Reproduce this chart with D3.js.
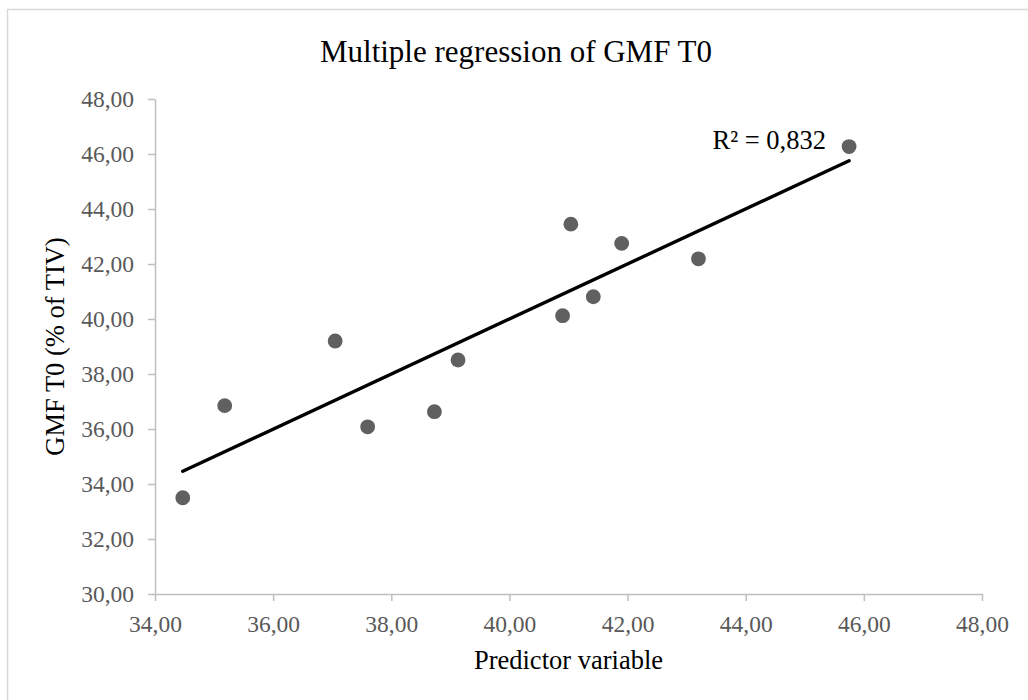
<!DOCTYPE html>
<html>
<head>
<meta charset="utf-8">
<script src="https://cdn.jsdelivr.net/npm/d3@7/dist/d3.min.js"></script>
<style>
  html, body { margin: 0; padding: 0; background: #fff; }
  svg { display: block; }
</style>
</head>
<body>
<svg id="chart" width="1028" height="700"></svg>
<script>
// ---- data ----
const predictor = [34.47, 35.18, 37.05, 37.60, 38.73, 39.13, 40.90, 41.04, 41.42, 41.90, 43.20, 45.75];
const gmfT0     = [33.50, 36.85, 39.20, 36.08, 36.63, 38.51, 40.12, 43.45, 40.81, 42.75, 42.19, 46.27];
const xTicks = [34, 36, 38, 40, 42, 44, 46, 48];
const yTicks = [30, 32, 34, 36, 38, 40, 42, 44, 46, 48];
const chartTitle = "Multiple regression of GMF T0";
const xTitle = "Predictor variable";
const yTitle = "GMF T0 (% of TIV)";
const r2Label = "R² = 0,832";

// ---- layout ----
const W = 1028, H = 700;
const plot = { left: 155, right: 982, top: 99, bottom: 594 };
const serif = "'Liberation Serif', 'Times New Roman', Times, serif";
const axisColor = "#bfbfbf";
const tickText = "#595959";

const svg = d3.select("#chart");

// outer border
svg.append("rect")
  .attr("x", 7.5).attr("y", 9.5)
  .attr("width", W + 10).attr("height", H + 10)
  .attr("fill", "none").attr("stroke", "#d9d9d9").attr("stroke-width", 1.5);

const x = d3.scaleLinear().domain([xTicks[0], xTicks[xTicks.length - 1]]).range([plot.left, plot.right]);
const y = d3.scaleLinear().domain([yTicks[0], yTicks[yTicks.length - 1]]).range([plot.bottom, plot.top]);

const fmt = v => d3.format(".2f")(v).replace(".", ",");

function styleAxis(g) {
  g.select(".domain").attr("stroke", axisColor).attr("stroke-width", 1.5);
  g.selectAll(".tick line").attr("stroke", axisColor).attr("stroke-width", 1.5);
  g.selectAll(".tick text")
    .attr("fill", tickText)
    .style("font-family", serif)
    .style("font-size", "23.5px");
}

// x axis
const gx = svg.append("g")
  .attr("transform", `translate(0,${plot.bottom})`)
  .call(d3.axisBottom(x).tickValues(xTicks).tickFormat(fmt).tickSize(7).tickSizeOuter(0).tickPadding(14));
styleAxis(gx);

// y axis
const gy = svg.append("g")
  .attr("transform", `translate(${plot.left},0)`)
  .call(d3.axisLeft(y).tickValues(yTicks).tickFormat(fmt).tickSize(7).tickSizeOuter(0).tickPadding(14));
styleAxis(gy);

// points
const pts = predictor.map((p, i) => ({ x: p, y: gmfT0[i] }));
svg.append("g").selectAll("circle")
  .data(pts)
  .join("circle")
  .attr("cx", d => x(d.x))
  .attr("cy", d => y(d.y))
  .attr("r", 7.4)
  .attr("fill", "#606060");

// linear trend line (least squares on the data)
const mx = d3.mean(pts, d => d.x), my = d3.mean(pts, d => d.y);
const slope = d3.sum(pts, d => (d.x - mx) * (d.y - my)) / d3.sum(pts, d => (d.x - mx) ** 2);
const icpt = my - slope * mx;
const [x0, x1] = d3.extent(predictor);
svg.append("line")
  .attr("x1", x(x0)).attr("y1", y(icpt + slope * x0))
  .attr("x2", x(x1)).attr("y2", y(icpt + slope * x1))
  .attr("stroke", "#000").attr("stroke-width", 3.4).attr("stroke-linecap", "round");

// R² label
svg.append("text")
  .attr("x", 826).attr("y", 149)
  .attr("text-anchor", "end")
  .style("font-family", serif).style("font-size", "26.5px")
  .attr("fill", "#000")
  .text(r2Label);

// title
svg.append("text")
  .attr("x", 516).attr("y", 62)
  .attr("text-anchor", "middle")
  .style("font-family", serif).style("font-size", "31px")
  .attr("fill", "#000")
  .text(chartTitle);

// x axis title
svg.append("text")
  .attr("x", (plot.left + plot.right) / 2).attr("y", 669)
  .attr("text-anchor", "middle")
  .style("font-family", serif).style("font-size", "26.5px")
  .attr("fill", "#000")
  .text(xTitle);

// y axis title
svg.append("text")
  .attr("transform", `translate(64,${(plot.top + plot.bottom) / 2}) rotate(-90)`)
  .attr("text-anchor", "middle")
  .style("font-family", serif).style("font-size", "26.5px")
  .attr("fill", "#000")
  .text(yTitle);
</script>
</body>
</html>
